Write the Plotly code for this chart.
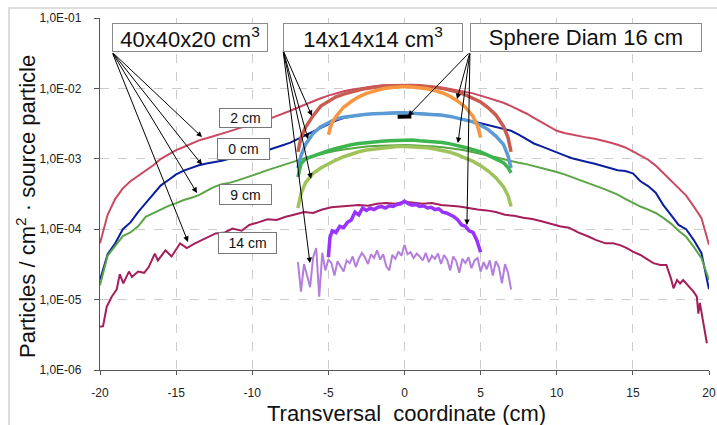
import math
import plotly.graph_objects as go

# ---------------- data ----------------
# 40x40x20 cm3 phantom, x from -20 to 20 every 0.5 cm
x_40 = [round(-20 + 0.5 * i, 2) for i in range(81)]
y_40_2cm = [6.3e-5, 1.6e-4, 2.7e-4, 3.8e-4, 4.8e-4, 5.7e-4, 6.8e-4, 8.1e-4, 1.0e-3, 1.15e-3,
            1.33e-3, 1.47e-3, 1.62e-3, 1.83e-3, 1.96e-3, 2.1e-3, 2.28e-3, 2.45e-3, 2.66e-3, 2.86e-3,
            3.1e-3, 3.33e-3, 3.62e-3, 3.98e-3, 4.35e-3, 4.82e-3, 5.35e-3, 5.95e-3, 6.6e-3, 7.25e-3,
            7.9e-3, 8.55e-3, 9.1e-3, 9.6e-3, 1.0e-2, 1.04e-2, 1.07e-2, 1.1e-2, 1.11e-2, 1.12e-2,
            1.13e-2, 1.12e-2, 1.1e-2, 1.08e-2, 1.05e-2, 1.02e-2, 9.8e-3, 9.4e-3, 9.0e-3, 8.5e-3,
            7.9e-3, 7.35e-3, 6.8e-3, 6.25e-3, 5.6e-3, 5.0e-3, 4.4e-3, 3.8e-3, 3.3e-3, 2.85e-3,
            2.5e-3, 2.32e-3, 2.2e-3, 2.1e-3, 2.0e-3, 1.93e-3, 1.83e-3, 1.7e-3, 1.58e-3, 1.45e-3,
            1.27e-3, 1.12e-3, 9.7e-4, 8.0e-4, 6.3e-4, 5.0e-4, 3.9e-4, 3.0e-4, 2.1e-4, 1.45e-4,
            6.0e-5]
y_40_0cm = [1.9e-5, 4.4e-5, 6.3e-5, 1.0e-4, 1.25e-4, 1.75e-4, 2.35e-4, 3.1e-4, 4.2e-4, 5.0e-4,
            6.0e-4, 6.8e-4, 7.5e-4, 8.1e-4, 8.6e-4, 8.9e-4, 9.4e-4, 1.0e-3, 1.05e-3, 1.12e-3,
            1.18e-3, 1.24e-3, 1.32e-3, 1.42e-3, 1.56e-3, 1.7e-3, 1.92e-3, 2.15e-3, 2.45e-3, 2.8e-3,
            3.15e-3, 3.5e-3, 3.8e-3, 4.0e-3, 4.2e-3, 4.3e-3, 4.4e-3, 4.45e-3, 4.5e-3, 4.55e-3,
            4.5e-3, 4.5e-3, 4.45e-3, 4.4e-3, 4.3e-3, 4.2e-3, 4.0e-3, 3.8e-3, 3.6e-3, 3.4e-3,
            3.2e-3, 3.0e-3, 2.8e-3, 2.65e-3, 2.5e-3, 2.2e-3, 1.9e-3, 1.65e-3, 1.5e-3, 1.35e-3,
            1.22e-3, 1.12e-3, 1.02e-3, 9.5e-4, 9.0e-4, 8.5e-4, 7.9e-4, 7.4e-4, 6.9e-4, 6.7e-4,
            6.2e-4, 4.8e-4, 4.1e-4, 3.3e-4, 2.2e-4, 1.6e-4, 1.15e-4, 1.0e-4, 7.0e-5, 4.6e-5,
            1.4e-5]
y_40_9cm = [1.6e-5, 4.2e-5, 5.8e-5, 8.0e-5, 9.0e-5, 1.1e-4, 1.5e-4, 1.7e-4, 1.9e-4, 2.15e-4,
            2.35e-4, 2.6e-4, 2.8e-4, 3.05e-4, 3.5e-4, 4.0e-4, 4.35e-4, 4.55e-4, 4.9e-4, 5.3e-4,
            5.8e-4, 6.3e-4, 6.9e-4, 7.5e-4, 8.1e-4, 8.8e-4, 9.6e-4, 1.03e-3, 1.1e-3, 1.17e-3,
            1.24e-3, 1.3e-3, 1.36e-3, 1.41e-3, 1.45e-3, 1.49e-3, 1.52e-3, 1.54e-3, 1.56e-3, 1.57e-3,
            1.57e-3, 1.56e-3, 1.55e-3, 1.53e-3, 1.5e-3, 1.46e-3, 1.42e-3, 1.37e-3, 1.31e-3, 1.25e-3,
            1.18e-3, 1.11e-3, 1.05e-3, 9.9e-4, 9.2e-4, 8.8e-4, 8.4e-4, 7.9e-4, 7.5e-4, 7.0e-4,
            6.5e-4, 6.0e-4, 5.5e-4, 5.0e-4, 4.6e-4, 4.15e-4, 3.8e-4, 3.45e-4, 3.1e-4, 2.7e-4,
            2.35e-4, 2.1e-4, 1.9e-4, 1.7e-4, 1.45e-4, 1.2e-4, 9.5e-5, 7.8e-5, 5.6e-5, 3.9e-5,
            1.9e-5]
x_40_14cm = [-20.0, -19.8, -19.56, -19.23, -18.9, -18.7, -18.47, -18.1, -17.9, -17.5, -17.1, -16.8,
             -16.4, -16.2, -15.7, -15.3, -14.74, -14.3, -13.76, -13.1, -12.4, -11.8, -11.3, -10.7,
             -10.2, -9.6, -9.0, -8.4, -7.8, -7.2, -6.6, -6.0, -5.4, -4.8, -4.2, -3.6, -3.0, -2.4,
             -1.8, -1.2, -0.6, 0.0, 0.6, 1.2, 1.8, 2.4, 3.0, 3.6, 4.2, 4.8, 5.4, 6.0, 6.6, 7.2,
             7.8, 8.4, 9.0, 9.6, 10.2, 10.8, 11.4, 12.0, 12.6, 13.2, 13.7, 14.2, 14.6, 15.0, 15.5,
             15.9, 16.35, 16.8, 17.2, 17.5, 17.67, 17.9, 18.1, 18.3, 18.6, 18.98, 19.2, 19.3, 19.4,
             19.6, 19.86]
y_40_14cm = [4.1e-6, 4.2e-6, 7.9e-6, 1.1e-5, 1.4e-5, 2.3e-5, 1.7e-5, 2.5e-5, 2.1e-5, 2.5e-5, 2.4e-5, 2.9e-5,
             4.5e-5, 3.6e-5, 5.0e-5, 4.1e-5, 6.3e-5, 5.4e-5, 6.3e-5, 7.4e-5, 8.7e-5, 9.0e-5, 1.02e-4, 9.5e-5,
             1.15e-4, 1.25e-4, 1.38e-4, 1.35e-4, 1.5e-4, 1.62e-4, 1.75e-4, 1.7e-4, 1.9e-4, 2.05e-4, 2.1e-4,
             2.1e-4, 2.2e-4, 2.15e-4, 2.3e-4, 2.35e-4, 2.3e-4, 2.45e-4, 2.35e-4, 2.3e-4, 2.35e-4, 2.2e-4,
             2.15e-4, 2.1e-4, 2.0e-4, 1.9e-4, 1.85e-4, 1.75e-4, 1.6e-4, 1.55e-4, 1.45e-4, 1.4e-4, 1.3e-4,
             1.2e-4, 1.1e-4, 1.05e-4, 9.0e-5, 8.0e-5, 7.0e-5, 6.3e-5, 6.3e-5, 5.9e-5, 5.4e-5, 4.8e-5,
             4.3e-5, 3.8e-5, 3.3e-5, 3.1e-5, 3.1e-5, 2.0e-5, 1.45e-5, 1.9e-5, 1.7e-5, 1.9e-5, 1.6e-5,
             1.3e-5, 1.1e-5, 6.3e-6, 9.0e-6, 5.0e-6, 2.4e-6]

# 14x14x14 cm3 phantom
x_14 = [-7.0, -6.8, -6.5, -6.0, -5.5, -5.0, -4.5, -4.0, -3.5, -3.0, -2.5, -2.0, -1.5, -1.0, -0.5, 0.0,
        0.5, 1.0, 1.5, 2.0, 2.5, 3.0, 3.5, 4.0, 4.5, 5.0, 5.5, 6.0, 6.5, 6.8, 7.0]
y_14_2cm = [1.25e-3, 2.0e-3, 2.8e-3, 4.1e-3, 5.6e-3, 6.6e-3, 7.6e-3, 8.3e-3, 9.0e-3, 9.5e-3, 1.0e-2,
            1.04e-2, 1.07e-2, 1.09e-2, 1.1e-2, 1.11e-2, 1.1e-2, 1.09e-2, 1.07e-2, 1.04e-2, 1.0e-2,
            9.5e-3, 8.9e-3, 8.1e-3, 7.3e-3, 6.4e-3, 5.3e-3, 4.2e-3, 2.9e-3, 2.0e-3, 1.25e-3]
y_14_0cm = [7.4e-4, 1.1e-3, 1.6e-3, 2.3e-3, 2.85e-3, 3.3e-3, 3.7e-3, 3.9e-3, 4.05e-3, 4.2e-3, 4.3e-3,
            4.35e-3, 4.4e-3, 4.45e-3, 4.5e-3, 4.5e-3, 4.45e-3, 4.4e-3, 4.35e-3, 4.25e-3, 4.15e-3,
            4.0e-3, 3.8e-3, 3.6e-3, 3.35e-3, 3.0e-3, 2.6e-3, 2.1e-3, 1.6e-3, 1.1e-3, 7.4e-4]
y_14_5cm = [5.5e-4, 8.5e-4, 1.0e-3, 1.1e-3, 1.2e-3, 1.3e-3, 1.4e-3, 1.5e-3, 1.58e-3, 1.65e-3, 1.7e-3,
            1.75e-3, 1.78e-3, 1.8e-3, 1.82e-3, 1.83e-3, 1.85e-3, 1.8e-3, 1.78e-3, 1.75e-3, 1.7e-3,
            1.63e-3, 1.55e-3, 1.45e-3, 1.35e-3, 1.25e-3, 1.12e-3, 1.0e-3, 8.8e-4, 7.5e-4, 6.3e-4]
y_14_9cm = [2.0e-4, 3.2e-4, 4.6e-4, 6.2e-4, 7.4e-4, 8.5e-4, 9.6e-4, 1.07e-3, 1.17e-3, 1.26e-3, 1.33e-3,
            1.38e-3, 1.43e-3, 1.47e-3, 1.5e-3, 1.5e-3, 1.49e-3, 1.47e-3, 1.43e-3, 1.38e-3, 1.32e-3,
            1.24e-3, 1.14e-3, 1.03e-3, 9.2e-4, 8.0e-4, 6.7e-4, 5.4e-4, 4.0e-4, 3.0e-4, 2.1e-4]
x_14_14cm = [round(-7 + 0.2 * i, 2) for i in range(71)]
y_14_14cm = [3.4e-5, 1.3e-5, 3.2e-5, 2.2e-5, 1.5e-5, 4.0e-5, 5.4e-5, 1.1e-5, 4.6e-5, 2.6e-5,
             3.7e-5, 3.3e-5, 2.2e-5, 3.5e-5, 3.0e-5, 2.5e-5, 3.6e-5, 3.3e-5, 4.1e-5, 2.9e-5,
             3.8e-5, 4.6e-5, 4.0e-5, 3.2e-5, 4.4e-5, 3.9e-5, 5.0e-5, 3.7e-5, 4.4e-5, 3.0e-5,
             2.6e-5, 4.3e-5, 3.8e-5, 4.8e-5, 4.2e-5, 6.0e-5, 4.4e-5, 4.7e-5, 3.9e-5, 4.5e-5,
             4.1e-5, 3.6e-5, 4.6e-5, 3.4e-5, 4.2e-5, 3.8e-5, 4.5e-5, 3.2e-5, 4.3e-5, 3.7e-5,
             2.6e-5, 4.1e-5, 3.5e-5, 2.4e-5, 3.8e-5, 3.3e-5, 4.0e-5, 2.8e-5, 3.6e-5, 3.9e-5,
             2.5e-5, 3.4e-5, 2.7e-5, 3.6e-5, 2.2e-5, 3.5e-5, 2.9e-5, 1.7e-5, 3.2e-5, 2.4e-5,
             1.4e-5]

# Sphere, diameter 16 cm
x_sph = [-5.0, -4.8, -4.5, -4.0, -3.5, -3.0, -2.5, -2.0, -1.5, -1.0, -0.5, 0.0, 0.5, 1.0, 1.5, 2.0,
         2.5, 3.0, 3.5, 4.0, 4.5, 4.8, 5.0]
y_sph_2cm = [2.2e-3, 3.1e-3, 4.0e-3, 5.4e-3, 6.5e-3, 7.6e-3, 8.5e-3, 9.2e-3, 9.8e-3, 1.02e-2, 1.05e-2,
             1.06e-2, 1.05e-2, 1.03e-2, 9.9e-3, 9.3e-3, 8.6e-3, 7.7e-3, 6.6e-3, 5.4e-3, 4.0e-3, 2.9e-3,
             2.0e-3]
x_sph_0cm = [-0.45, 0.45]
y_sph_0cm = [3.95e-3, 4.0e-3]
x_sph_14cm = [-5.0, -4.9, -4.75, -4.5, -4.25, -4.0, -3.75, -3.5, -3.25, -3.0, -2.75, -2.5, -2.25,
              -2.0, -1.75, -1.5, -1.25, -1.0, -0.75, -0.5, -0.25, 0.0, 0.25, 0.5, 0.75, 1.0, 1.25,
              1.5, 1.75, 2.0, 2.25, 2.5, 2.75, 3.0, 3.25, 3.5, 3.75, 4.0, 4.25, 4.5, 4.75, 5.0]
y_sph_14cm = [4.0e-5, 7.5e-5, 9.5e-5, 9.0e-5, 1.1e-4, 1.05e-4, 1.25e-4, 1.35e-4, 1.75e-4, 1.6e-4,
              2.0e-4, 1.85e-4, 2.0e-4, 1.9e-4, 2.05e-4, 2.1e-4, 2.0e-4, 2.15e-4, 2.1e-4, 2.25e-4,
              2.3e-4, 2.5e-4, 2.3e-4, 2.2e-4, 2.25e-4, 2.1e-4, 2.15e-4, 2.0e-4, 2.05e-4, 1.9e-4,
              1.95e-4, 1.75e-4, 1.7e-4, 1.6e-4, 1.5e-4, 1.35e-4, 1.15e-4, 1.1e-4, 9.5e-5, 9.0e-5,
              7.0e-5, 4.7e-5]

# Axis ticks
x_ticks = [-20, -15, -10, -5, 0, 5, 10, 15, 20]
y_ticks = [1e-6, 1e-5, 1e-4, 1e-3, 1e-2, 1e-1]
y_tick_text = ["1,0E-06", "1,0E-05", "1,0E-04", "1,0E-03", "1,0E-02", "1,0E-01"]

# Callout arrows: (tail x, tail y) -> heads (x, y) in data units
tail_40 = (-19.21, 3.29e-2)
heads_40 = [(-13.30, 2.04e-3), (-13.30, 8.2e-4), (-13.63, 3.27e-4), (-14.22, 6.6e-5)]
tail_14 = (-7.98, 3.5e-2)
heads_14 = [(-6.08, 4.06e-3), (-6.34, 1.91e-3), (-6.14, 5.2e-4), (-6.21, 3.3e-5)]
tail_sph = (4.30, 3.29e-2)
heads_sph = [(0.23, 4.06e-3), (3.45, 7.06e-3), (3.51, 1.67e-3), (4.10, 1.15e-4)]

# ---------------- figure ----------------
FONT = "Liberation Sans, Arial, Helvetica, sans-serif"
fig = go.Figure()


def add(x, y, color, width, opacity=1.0):
    fig.add_trace(go.Scatter(x=x, y=y, mode="lines", line=dict(color=color, width=width),
                             opacity=opacity, showlegend=False, hoverinfo="skip"))


add(x_40, y_40_2cm, "#CB4862", 2)
add(x_40, y_40_0cm, "#0B1F9E", 2)
add(x_40, y_40_9cm, "#5BA447", 2)
add(x_40_14cm, y_40_14cm, "#A51E5A", 2)

add(x_14, y_14_2cm, "#C95B50", 3.5)
add(x_14, y_14_0cm, "#5A9BD5", 3.5)
add(x_14, y_14_5cm, "#3DB54E", 3.5)
add(x_14, y_14_9cm, "#9EC35A", 3.5)
add(x_14_14cm, y_14_14cm, "#B47EDB", 2)

add(x_sph, y_sph_2cm, "#F7963F", 3.5)
add(x_sph_14cm, y_sph_14cm, "#9933FF", 3.5)
add(x_sph_0cm, y_sph_0cm, "#000000", 4)

annotations = []
for tail, heads in [(tail_40, heads_40), (tail_14, heads_14), (tail_sph, heads_sph)]:
    for hx, hy in heads:
        annotations.append(dict(x=hx, y=math.log10(hy), xref="x", yref="y",
                                ax=tail[0], ay=math.log10(tail[1]), axref="x", ayref="y",
                                text="", showarrow=True, arrowhead=2, arrowsize=1.1,
                                arrowwidth=1, arrowcolor="#000000", standoff=0, startstandoff=0))

PW, PH, L, T = 609.0, 352.0, 100.0, 18.0


def px(xp):
    return (xp - L) / PW


def py(yp):
    return (T + PH - yp) / PH


def box(text, x0, x1, y0, y1, size, border="#8a8a8a"):
    annotations.append(dict(text=text, xref="paper", yref="paper",
                            x=px((x0 + x1) / 2), y=py((y0 + y1) / 2),
                            xanchor="center", yanchor="middle", showarrow=False,
                            width=x1 - x0 - 2, height=y1 - y0 - 2, align="center", valign="middle",
                            bgcolor="white", bordercolor=border, borderwidth=1, borderpad=0,
                            font=dict(family=FONT, size=size, color="#111")))


box("40x40x20 cm<sup>3</sup>", 112, 268, 23, 52, 22)
box("14x14x14 cm<sup>3</sup>", 283, 463, 23, 52, 22)
box("Sphere Diam 16 cm", 470, 702, 23, 52, 22)
box("2 cm", 219, 272, 108, 128, 14, "#777")
box("0 cm", 217, 270, 138, 160, 14, "#777")
box("9 cm", 219, 272, 184, 205, 14, "#777")
box("14 cm", 218, 277, 232, 254, 14, "#777")

annotations.append(dict(text="Transversal\u00a0 coordinate (cm)", xref="paper", yref="paper",
                        x=px(406), y=py(413), xanchor="center", yanchor="middle", showarrow=False,
                        font=dict(family=FONT, size=22, color="#111")))
annotations.append(dict(text="Particles / cm<sup>2</sup> · source particle", xref="paper", yref="paper",
                        x=px(26), y=py(207), xanchor="center", yanchor="middle", showarrow=False,
                        textangle=-90, font=dict(family=FONT, size=22, color="#111")))

fig.update_layout(
    width=717, height=425,
    margin=dict(l=100, r=8, t=18, b=55),
    paper_bgcolor="white", plot_bgcolor="white",
    showlegend=False,
    font=dict(family=FONT, size=12, color="#222"),
    annotations=annotations,
    shapes=[dict(type="rect", xref="paper", yref="paper",
                 x0=px(9), x1=px(730), y0=py(440), y1=py(8),
                 line=dict(color="#d2d2d2", width=1.5), fillcolor="rgba(0,0,0,0)", layer="below")],
)
fig.update_xaxes(range=[-20, 20], tickvals=x_ticks, ticktext=[str(v) for v in x_ticks],
                 automargin=False,
                 showgrid=True, gridcolor="#cccccc", griddash="dash", gridwidth=1,
                 showline=True, linecolor="#555555", linewidth=1.3, zeroline=False,
                 ticks="outside", ticklen=4, tickcolor="#555555", ticklabelstandoff=7,
                 tickfont=dict(family=FONT, size=12, color="#222"))
fig.update_yaxes(type="log", range=[-6, -1], tickvals=y_ticks, ticktext=y_tick_text,
                 automargin=False,
                 showgrid=True, gridcolor="#cccccc", griddash="dash", gridwidth=1,
                 showline=True, linecolor="#555555", linewidth=1.3, zeroline=False,
                 ticks="outside", ticklen=5, tickcolor="#555555", ticklabelstandoff=10,
                 tickfont=dict(family=FONT, size=12, color="#222"))

fig.write_html("out.html", config={"displayModeBar": False},
               post_script="document.body.style.margin='0px';document.body.style.overflow='hidden';")
